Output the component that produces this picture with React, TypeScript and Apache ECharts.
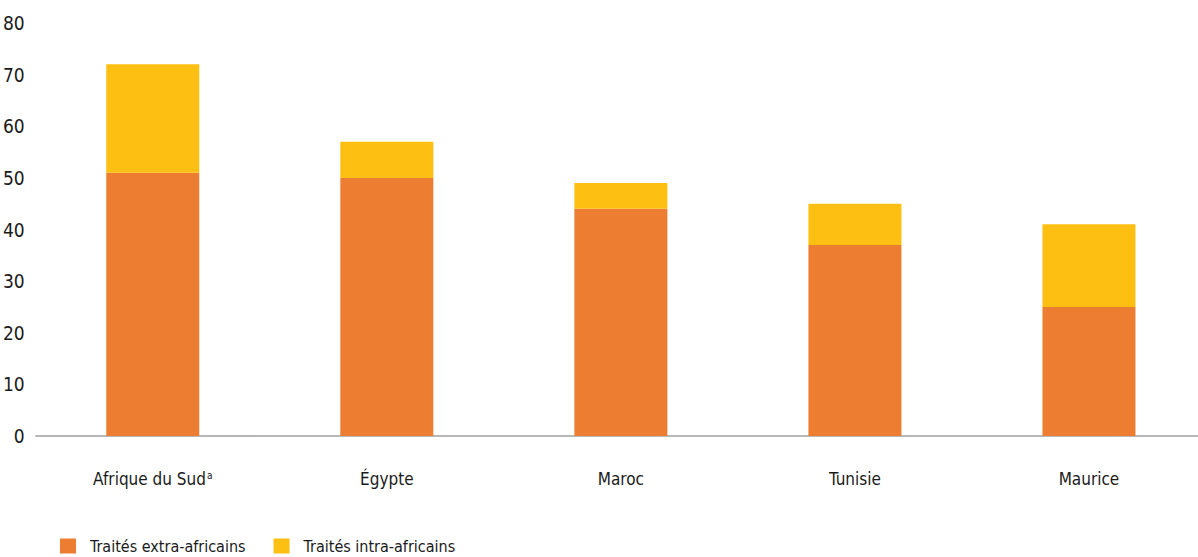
import React, { useEffect, useRef } from "react";
import * as echarts from "echarts";

const categories = ["Afrique du Sud", "Égypte", "Maroc", "Tunisie", "Maurice"];
const extraAfricains = [51, 50, 44, 37, 25];
const intraAfricains = [21, 7, 5, 8, 16];
const seriesNames = ["Traités extra-africains", "Traités intra-africains"];
const yTicks = { min: 0, max: 80, interval: 10 };

const FONT = "'Liberation Sans Narrow', 'DejaVu Sans Condensed', 'Roboto', sans-serif";

export default function App() {
  const ref = useRef<HTMLDivElement>(null);
  useEffect(() => {
    if (!ref.current) return;
    const chart = echarts.init(ref.current, null, { renderer: "svg" });
    chart.setOption({
      animation: false,
      textStyle: { fontFamily: FONT },
      grid: { left: 35, right: 0, top: 23, bottom: 121, containLabel: false },
      legend: {
        left: 55,
        top: 533,
        itemWidth: 16,
        itemHeight: 15,
        itemGap: 28,
        icon: "rect",
        textStyle: { fontFamily: FONT, fontSize: 16, color: "#1a1a1a", padding: [0, 0, 0, 9] },
        data: seriesNames,
      },
      xAxis: {
        type: "category",
        data: categories,
        axisLine: { show: true, lineStyle: { color: "#a0a0a0", width: 1.5 } },
        axisTick: { show: false },
        axisLabel: {
          interval: 0,
          margin: 34,
          fontFamily: FONT,
          fontSize: 17,
          color: "#1a1a1a",
          formatter: (v: string) => (v === "Afrique du Sud" ? "Afrique du Sud{sup|a}" : v),
          rich: {
            sup: { fontSize: 10, verticalAlign: "top", padding: [0, 0, 7, 1], color: "#1a1a1a", fontFamily: FONT },
          },
        },
      },
      yAxis: {
        type: "value",
        min: yTicks.min,
        max: yTicks.max,
        interval: yTicks.interval,
        axisLine: { show: false },
        axisTick: { show: false },
        splitLine: { show: false },
        axisLabel: { margin: 11, fontFamily: FONT, fontSize: 19, color: "#1a1a1a" },
      },
      series: [
        {
          name: seriesNames[0],
          type: "bar",
          stack: "total",
          data: extraAfricains,
          barWidth: 93,
          itemStyle: { color: "#ED7D31" },
        },
        {
          name: seriesNames[1],
          type: "bar",
          stack: "total",
          data: intraAfricains,
          barWidth: 93,
          itemStyle: { color: "#FDBF12" },
        },
      ],
    });
    return () => chart.dispose();
  }, []);
  return (
    <div
      ref={ref}
      style={{ position: "fixed", left: 0, top: 0, width: 1206, height: 557, background: "#fff" }}
    />
  );
}
